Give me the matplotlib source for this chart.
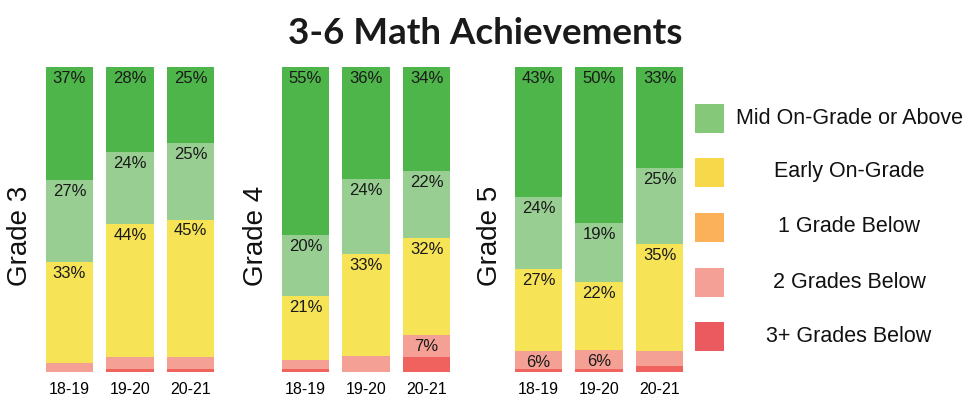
import numpy as np
import matplotlib.pyplot as plt
from matplotlib.patches import Rectangle

# data per grade, each list is 18-19, 19-20, 20-21
years = ['18-19', '19-20', '20-21']
grades = ['Grade 3', 'Grade 4', 'Grade 5']

three_plus_below = [[0, 1, 1], [1, 0, 5], [1, 1, 2]]
two_below = [[3, 4, 4], [3, 5, 7], [6, 6, 5]]
one_below = [[0, 0, 0], [0, 0, 0], [0, 0, 0]]
early_on = [[33, 44, 45], [21, 33, 32], [27, 22, 35]]
mid_on = [[27, 24, 25], [20, 24, 22], [24, 19, 25]]
above = [[37, 28, 25], [55, 36, 34], [43, 50, 33]]

legend_labels = ['Mid On-Grade or Above', 'Early On-Grade', '1 Grade Below',
                 '2 Grades Below', '3+ Grades Below']

bar_colors = ['#ef625d', '#f5a095', '#fbb05a', '#f6e356', '#98ce92', '#4db54a']
legend_colors = ['#85c87a', '#f7d84a', '#fbb05a', '#f5a097', '#eb5a5e']

narrow = ['Liberation Sans Narrow', 'Liberation Sans', 'DejaVu Sans']

fig = plt.figure(figsize=(9.69, 4.03), dpi=100)
W, H = 969, 403

fig.text(485 / W, 1 - 33 / H, '3-6 Math Achievements', ha='center', va='center',
         fontsize=26.5, fontweight='bold', family=['Lato', 'DejaVu Sans'], color='#1a1a1a')

panel_left = [44, 280, 513]
label_x = [20, 256, 490]
x = np.arange(3)

for g in range(3):
    ax = fig.add_axes([panel_left[g] / W, 1 - 372 / H, 172 / W, 305 / H])
    stacks = [three_plus_below[g], two_below[g], one_below[g],
              early_on[g], mid_on[g], above[g]]
    # each bar is drawn at full height (share of its own total)
    totals = np.sum(np.array(stacks, dtype=float), axis=0)
    bottom = np.zeros(3)
    for vals, col in zip(stacks, bar_colors):
        vals = np.array(vals, dtype=float)
        h = vals / totals * 100
        ax.bar(x, h, bottom=bottom, width=0.78, color=col, linewidth=0)
        for i in range(3):
            if vals[i] >= 6:
                ax.text(x[i], bottom[i] + h[i] - 1.3, f'{int(vals[i])}%',
                        ha='center', va='top', fontsize=12, family=narrow, color='#1a1a1a')
        bottom += h
    ax.set_xlim(-0.42, 2.42)
    ax.set_ylim(0, 100)
    ax.set_xticks(x)
    ax.set_xticklabels(years, fontsize=11.5, family=narrow)
    ax.tick_params(axis='x', length=0, pad=7)
    ax.set_yticks([])
    for s in ax.spines.values():
        s.set_visible(False)
    fig.text(label_x[g] / W, 1 - 236 / H, grades[g], rotation=90, ha='center', va='center',
             fontsize=20, family=narrow, color='#111111')

# legend drawn by hand
leg_y = [118, 172, 227, 282, 336]
for lab, col, yy in zip(legend_labels, legend_colors, leg_y):
    fig.patches.append(Rectangle((695 / W, 1 - (yy + 14.5) / H), 29 / W, 29 / H,
                                 transform=fig.transFigure, color=col, linewidth=0))
    fig.text(849 / W, 1 - yy / H, lab, ha='center', va='center',
             fontsize=15.5, family=narrow, color='#111111')

plt.savefig('out.png', dpi=100)
